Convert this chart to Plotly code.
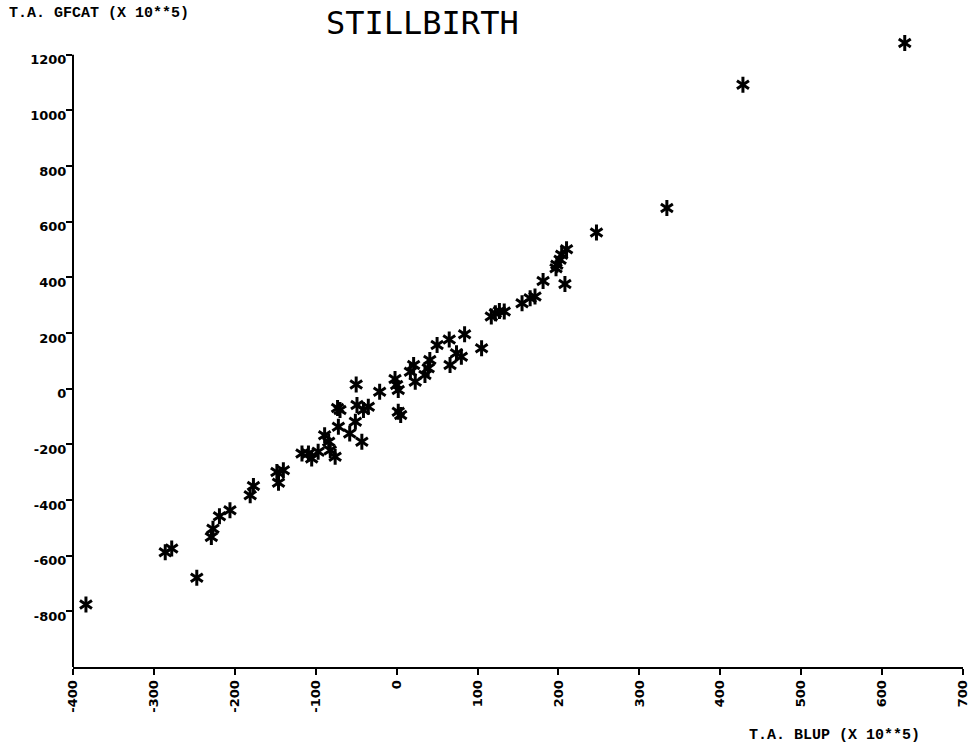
import plotly.graph_objects as go

# Total additive genetic values: BLUP (x) vs GFCAT (y), both in units of 10**-5
blup = [
    -384, -286, -278, -247, -229, -227, -219, -206, -181, -177,
    -146, -148, -140, -117, -109, -105, -97, -82, -76, -89,
    -84, -72, -58, -43, -51, -70, -73, -49, -41, -35,
    -50, -21, -2, 2, 0, 2, 5, 17, 21, 23,
    35, 39, 41, 50, 65, 84, 66, 74, 80, 105,
    117, 122, 127, 133, 155, 165, 171, 181, 197, 198,
    202, 204, 210, 208, 247, 334, 428, 628,
]
gfcat = [
    -775, -588, -574, -679, -533, -503, -458, -437, -383, -350,
    -338, -299, -293, -233, -233, -251, -227, -221, -245, -167,
    -191, -137, -161, -191, -119, -77, -69, -59, -77, -65,
    15, -11, 35, -5, 13, -83, -95, 61, 85, 25,
    49, 73, 103, 157, 177, 196, 85, 127, 115, 145,
    259, 271, 279, 277, 307, 325, 331, 387, 433, 445,
    463, 481, 501, 376, 561, 649, 1092, 1242,
]

x_ticks = [-400, -300, -200, -100, 0, 100, 200, 300, 400, 500, 600, 700]
y_ticks = [-800, -600, -400, -200, 0, 200, 400, 600, 800, 1000, 1200]

title_text = "STILLBIRTH"
x_title = "T.A. BLUP (X 10**5)"
y_title = "T.A. GFCAT (X 10**5)"

X_RANGE = [-400, 700]
Y_RANGE = [-1000, 1260]   # a little headroom above the last tick for the top point
Y_AXIS_TOP = 1200         # the drawn y-axis line stops at the last tick

W, H = 980, 751
ML, MR, MB = 73, 17, 84
PLOT_BOTTOM = H - MB                 # pixel row of the x-axis
PX_PER_Y = 612 / 2200                # vertical scale, px per unit
MT = round(PLOT_BOTTOM - PX_PER_Y * (Y_RANGE[1] - Y_RANGE[0]))
PW, PH = W - ML - MR, H - MT - MB


def px(xp, yp):
    """Pixel position on the page -> paper coordinates."""
    return (xp - ML) / PW, (H - MB - yp) / PH


fig = go.Figure()

# six-armed asterisk: two three-armed symbols drawn on top of each other
for sym in ("y-up-open", "y-down-open"):
    fig.add_trace(go.Scatter(
        x=blup, y=gfcat, mode="markers", cliponaxis=False, showlegend=False,
        marker=dict(symbol=sym, size=10, color="black",
                    line=dict(color="black", width=3)),
    ))

tick_font = dict(family="DejaVu Sans", size=13, color="black", weight="bold")
label_font = dict(family="Liberation Mono", size=15, color="black", weight="bold")

fig.update_xaxes(
    range=X_RANGE, tickvals=x_ticks, ticktext=[str(v) for v in x_ticks],
    tickangle=-90, ticks="outside", ticklen=6, tickwidth=2, tickcolor="black",
    showline=True, linewidth=2, linecolor="black", showgrid=False,
    zeroline=False, tickfont=tick_font, automargin=False,
)
fig.update_yaxes(
    range=Y_RANGE, tickvals=y_ticks, ticktext=[str(v) for v in y_ticks],
    ticks="outside", ticklen=6, tickwidth=2, tickcolor="black",
    showline=False, showgrid=False,
    zeroline=False, tickfont=tick_font, automargin=False,
    ticklabelshift=5, ticklabelstandoff=-3,
)

# y-axis line from the bottom of the frame up to the top tick
fig.add_shape(type="line", xref="paper", yref="y", x0=0, x1=0,
              y0=Y_RANGE[0], y1=Y_AXIS_TOP,
              line=dict(color="black", width=2), layer="above")

tx, ty = px(422, 23)
lx, ly = px(7, 13)
bx, by = px(834, 736)
fig.add_annotation(text=title_text, x=tx, y=ty, xref="paper", yref="paper",
                   showarrow=False, xanchor="center", yanchor="middle",
                   font=dict(family="DejaVu Sans Mono", size=32, color="black"))
fig.add_annotation(text=y_title, x=lx, y=ly, xref="paper", yref="paper",
                   showarrow=False, xanchor="left", yanchor="middle",
                   font=label_font)
fig.add_annotation(text=x_title, x=bx, y=by, xref="paper", yref="paper",
                   showarrow=False, xanchor="center", yanchor="middle",
                   font=label_font)

fig.update_layout(
    width=W, height=H, margin=dict(l=ML, r=MR, t=MT, b=MB, autoexpand=False),
    paper_bgcolor="white", plot_bgcolor="white",
)

fig.write_html("out.html")
